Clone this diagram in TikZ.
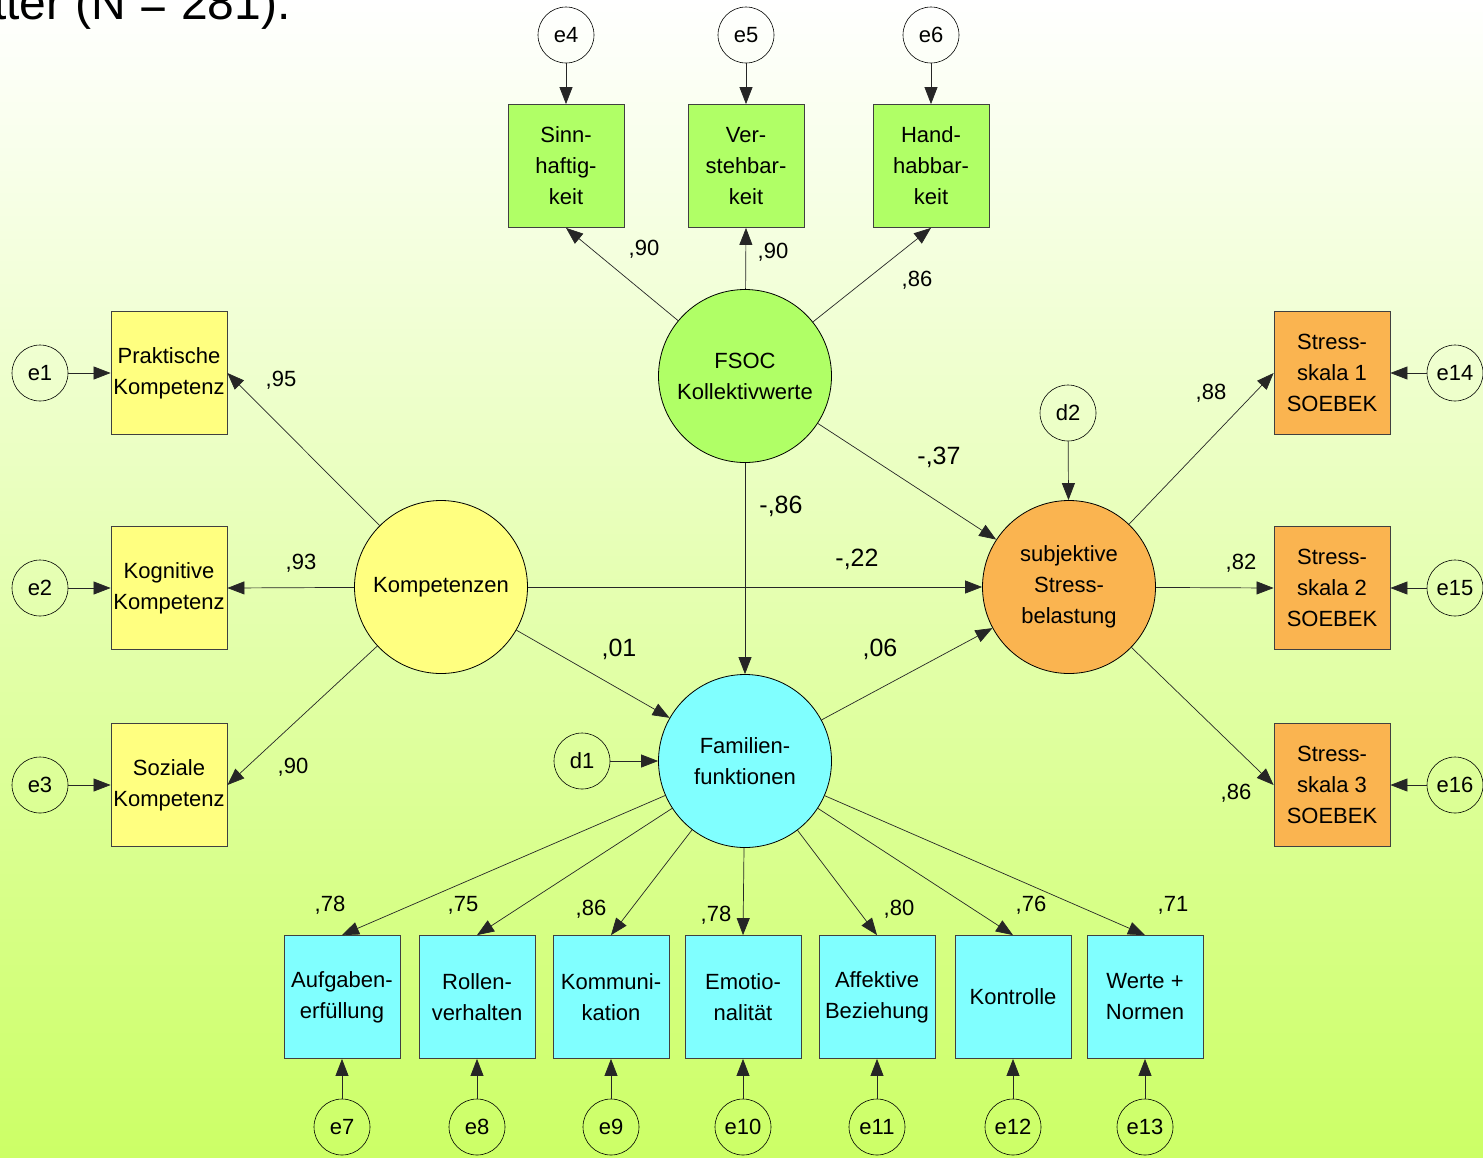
\documentclass[tikz,border=0pt]{standalone}
\usepackage{fontspec}
\setmainfont{Liberation Sans}
\usetikzlibrary{arrows.meta}
\definecolor{bgbot}{RGB}{204,255,102}
\definecolor{cyel}{RGB}{255,255,128}
\definecolor{cgrn}{RGB}{176,255,102}
\definecolor{ccyan}{RGB}{128,255,255}
\definecolor{corg}{RGB}{250,180,80}
\begin{document}
\begin{tikzpicture}[x=1pt,y=-1pt,
  every node/.style={font=\fontsize{22}{31}\selectfont},
  obs/.style={draw=black!75, line width=0.8pt, minimum width=116pt, minimum height=123pt, inner sep=0pt, align=center},
  lat/.style={draw=black, line width=0.8pt, circle, minimum size=173pt, inner sep=0pt, align=center},
  err/.style={draw=black, line width=0.6pt, circle, minimum size=56pt, inner sep=0pt},
  arr/.style={-{Triangle[length=17pt,width=13pt]}, line width=0.7pt, draw=black!85},
  lbl/.style={inner sep=0pt},
  biglbl/.style={inner sep=0pt, font=\fontsize{25}{30}\selectfont}
]
\useasboundingbox (0,0) rectangle (1483,1157);
\clip (0,0) rectangle (1483,1157);
\shade[top color=white, bottom color=bgbot] (0,0) rectangle (1483,1157);

\node[anchor=base west, inner sep=0pt, font=\fontsize{48}{56}\selectfont] (title) at (-7,19) {tter (N = 281).};

% latent variables
\node[lat, fill=cgrn] (fsoc) at (745,376) {FSOC\\Kollektivwerte};
\node[lat, fill=cyel] (komp) at (441,587) {Kompetenzen};
\node[lat, fill=corg] (stress) at (1069,587) {subjektive\\Stress-\\belastung};
\node[lat, fill=ccyan] (fam) at (745,761) {Familien-\\funktionen};

% FSOC indicators
\node[obs, fill=cgrn] (sinn) at (566,166) {Sinn-\\haftig-\\keit};
\node[obs, fill=cgrn] (verst) at (746,166) {Ver-\\stehbar-\\keit};
\node[obs, fill=cgrn] (hand) at (931,166) {Hand-\\habbar-\\keit};
\node[err] (e4) at (566,35) {e4};
\node[err] (e5) at (746,35) {e5};
\node[err] (e6) at (931,35) {e6};

% Kompetenz indicators
\node[obs, fill=cyel] (prakt) at (169,373) {Praktische\\Kompetenz};
\node[obs, fill=cyel] (kogn) at (169,588) {Kognitive\\Kompetenz};
\node[obs, fill=cyel] (soz) at (169,785) {Soziale\\Kompetenz};
\node[err] (e1) at (40,373) {e1};
\node[err] (e2) at (40,588) {e2};
\node[err] (e3) at (40,785) {e3};

% Stress indicators
\node[obs, fill=corg] (s1) at (1332,373) {Stress-\\skala 1\\SOEBEK};
\node[obs, fill=corg] (s2) at (1332,588) {Stress-\\skala 2\\SOEBEK};
\node[obs, fill=corg] (s3) at (1332,785) {Stress-\\skala 3\\SOEBEK};
\node[err] (e14) at (1455,373) {e14};
\node[err] (e15) at (1455,588) {e15};
\node[err] (e16) at (1455,785) {e16};

% disturbances
\node[err] (d2) at (1068,413) {d2};
\node[err] (d1) at (582,761) {d1};

% Familien indicators
\node[obs, fill=ccyan] (aufg) at (342,997) {Aufgaben-\\erfüllung};
\node[obs, fill=ccyan] (roll) at (477,997) {Rollen-\\verhalten};
\node[obs, fill=ccyan] (komm) at (611,997) {Kommuni-\\kation};
\node[obs, fill=ccyan] (emot) at (743,997) {Emotio-\\nalität};
\node[obs, fill=ccyan] (affk) at (877,997) {Affektive\\Beziehung};
\node[obs, fill=ccyan] (kontr) at (1013,997) {Kontrolle};
\node[obs, fill=ccyan] (werte) at (1145,997) {Werte +\\Normen};
\node[err] (e7) at (342,1127) {e7};
\node[err] (e8) at (477,1127) {e8};
\node[err] (e9) at (611,1127) {e9};
\node[err] (e10) at (743,1127) {e10};
\node[err] (e11) at (877,1127) {e11};
\node[err] (e12) at (1013,1127) {e12};
\node[err] (e13) at (1145,1127) {e13};

% connectors
\draw[arr] (e4) -- (sinn);
\draw[arr] (e5) -- (verst);
\draw[arr] (e6) -- (hand);
\draw[arr] (fsoc) -- (sinn.south);
\draw[arr] (fsoc) -- (verst.south);
\draw[arr] (fsoc) -- (hand.south);

\draw[arr] (e1) -- (prakt);
\draw[arr] (e2) -- (kogn);
\draw[arr] (e3) -- (soz);
\draw[arr] (komp) -- (prakt.east);
\draw[arr] (komp) -- (kogn.east);
\draw[arr] (komp) -- (soz.east);

\draw[arr] (e14) -- (s1);
\draw[arr] (e15) -- (s2);
\draw[arr] (e16) -- (s3);
\draw[arr] (stress) -- (s1.west);
\draw[arr] (stress) -- (s2.west);
\draw[arr] (stress) -- (s3.west);

\draw[arr] (d2) -- (stress);
\draw[arr] (d1) -- (fam);
\draw[arr] (fsoc) -- (fam);
\draw[arr] (fsoc) -- (stress);
\draw[arr] (komp) -- (stress);
\draw[arr] (komp) -- (fam);
\draw[arr] (fam) -- (stress);

\draw[arr] (fam) -- (aufg.north);
\draw[arr] (fam) -- (roll.north);
\draw[arr] (fam) -- (komm.north);
\draw[arr] (fam) -- (emot.north);
\draw[arr] (fam) -- (affk.north);
\draw[arr] (fam) -- (kontr.north);
\draw[arr] (fam) -- (werte.north);
\draw[arr] (e7) -- (aufg);
\draw[arr] (e8) -- (roll);
\draw[arr] (e9) -- (komm);
\draw[arr] (e10) -- (emot);
\draw[arr] (e11) -- (affk);
\draw[arr] (e12) -- (kontr);
\draw[arr] (e13) -- (werte);

% coefficient labels
\node[lbl] (l1) at (644,249) {,90};
\node[lbl] (l2) at (773,252) {,90};
\node[lbl] (l3) at (917,280) {,86};
\node[lbl] (l4) at (281,380) {,95};
\node[lbl] (l5) at (301,563) {,93};
\node[lbl] (l6) at (293,767) {,90};
\node[lbl] (l7) at (1211,393) {,88};
\node[lbl] (l8) at (1241,563) {,82};
\node[lbl] (l9) at (1236,793) {,86};
\node[biglbl] (l10) at (939,457) {-,37};
\node[biglbl] (l11) at (781,506) {-,86};
\node[biglbl] (l12) at (857,559) {-,22};
\node[biglbl] (l13) at (619,649) {,01};
\node[biglbl] (l14) at (880,649) {,06};
\node[lbl] (l15) at (330,905) {,78};
\node[lbl] (l16) at (463,905) {,75};
\node[lbl] (l17) at (591,909) {,86};
\node[lbl] (l18) at (716,915) {,78};
\node[lbl] (l19) at (899,909) {,80};
\node[lbl] (l20) at (1031,905) {,76};
\node[lbl] (l21) at (1173,905) {,71};
\end{tikzpicture}
\end{document}
